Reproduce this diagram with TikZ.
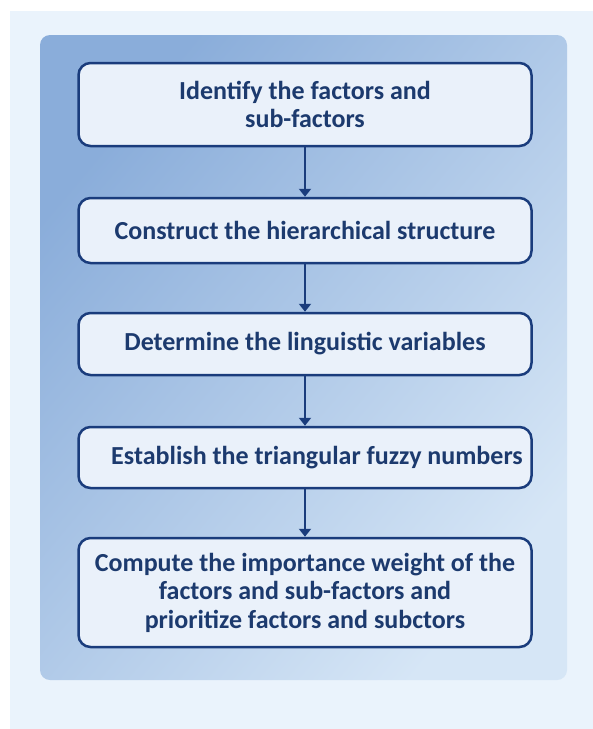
\documentclass[tikz,border=0pt]{standalone}
\usepackage{fontspec}
\setmainfont{Carlito}
\usetikzlibrary{arrows.meta}
\definecolor{paleBg}{HTML}{EAF3FC}
\definecolor{panelDark}{HTML}{8AADDA}
\definecolor{panelLight}{HTML}{D6E6F6}
\definecolor{boxBlue}{HTML}{1A3C7C}
\definecolor{boxFill}{HTML}{EAF1FA}
\definecolor{textBlue}{HTML}{1C3A6E}
\begin{document}
\begin{tikzpicture}[x=1pt, y=-1pt,
    stepbox/.style={draw=boxBlue, line width=2.5pt, rounded corners=12pt, fill=boxFill,
      minimum width=453pt, inner sep=0pt, align=center, text=textBlue,
      font=\fontsize{26}{28.5}\selectfont\bfseries},
    flow/.style={draw=boxBlue, line width=2pt, -{Triangle[length=8pt, width=12pt]}}]
    \useasboundingbox (0,0) rectangle (593,729);
    \fill[paleBg] (10,11) rectangle (593,729);
    \shade[rounded corners=10pt, top color=panelDark, bottom color=panelLight, shading angle=50]
      (40,35) rectangle (567,680);
    \node[stepbox, minimum height=83pt] (s1) at (305,104.5) {Identify the factors and\\sub-factors};
    \node[stepbox, minimum height=65pt] (s2) at (305,230.5) {Construct the hierarchical structure};
    \node[stepbox, minimum height=62pt] (s3) at (305,344) {Determine the linguistic variables};
    \node[stepbox, minimum height=61pt] (s4) at (305,457.5) {\hspace*{24pt}Establish the triangular fuzzy numbers};
    \node[stepbox, minimum height=109pt] (s5) at (305,592.5) {Compute the importance weight of the\\factors and sub-factors and\\prioritize factors and subctors};
    \foreach \i/\j in {s1/s2, s2/s3, s3/s4, s4/s5}
        \draw[flow] (\i) -- (\j);
\end{tikzpicture}
\end{document}
